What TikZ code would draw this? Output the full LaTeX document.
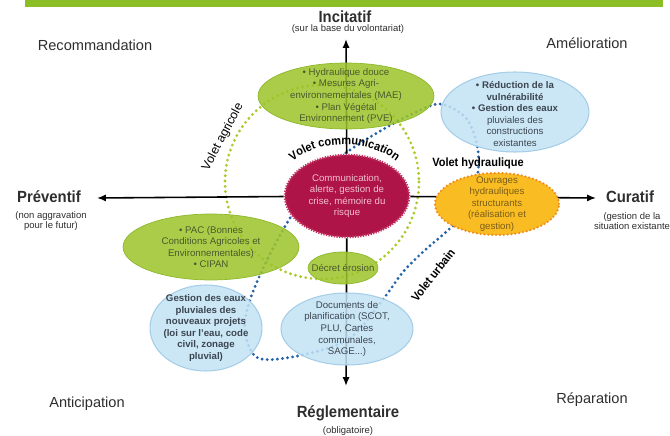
\documentclass[tikz,border=0pt]{standalone}
\usepackage{fontspec}
\setmainfont{Liberation Sans}
\newfontfamily\headfont[FakeStretch=0.92]{Liberation Sans}
\usetikzlibrary{shapes.geometric, arrows.meta, backgrounds, decorations.text}

\definecolor{bannergreen}{HTML}{8CBF26}
\definecolor{leafgreen}{HTML}{9DC42B}
\definecolor{leafedge}{HTML}{8DB82A}
\definecolor{leaftext}{HTML}{4A5A2C}
\definecolor{skyfill}{HTML}{C3E3F5}
\definecolor{skyedge}{HTML}{A5CDE8}
\definecolor{skytext}{HTML}{3C4650}
\definecolor{amberfill}{HTML}{F9BC22}
\definecolor{amberedge}{HTML}{F08C1A}
\definecolor{ambertext}{HTML}{7A5E1A}
\definecolor{wine}{HTML}{AE1448}
\definecolor{wineedge}{HTML}{C2305C}
\definecolor{pinktext}{HTML}{F4BFD0}
\definecolor{dotgreen}{HTML}{AACB2C}
\definecolor{dotblue}{HTML}{2563A8}
\definecolor{labelgray}{HTML}{2E2E2E}

\newcommand\voletfont{\headfont\bfseries\fontsize{6.8}{7.4}\selectfont}

\begin{document}
\begin{tikzpicture}[x=0.02cm, y=-0.02cm,
  blob/.style={ellipse, inner sep=0pt},
  leaf/.style={blob, fill=leafgreen, fill opacity=0.86, draw=leafedge, line width=0.4pt},
  sky/.style={blob, fill=skyfill, fill opacity=0.86, draw=skyedge, line width=0.6pt},
  amber/.style={blob, fill=amberfill, draw=amberedge, line width=1.4pt, line cap=round, dash pattern=on 0pt off 2.2pt},
  crimson/.style={blob, fill=wine, draw=wineedge, line width=1.5pt, dash pattern=on 0.7pt off 0.8pt},
  txt/.style={align=center, font=\fontsize{5.5}{6.6}\selectfont, inner sep=0pt},
  headl/.style={font={\headfont\bfseries\fontsize{9.2}{10}\selectfont}, text=labelgray, inner sep=0pt},
  subl/.style={font=\fontsize{5.4}{5.8}\selectfont, text=labelgray, inner sep=0pt, align=center},
  sidel/.style={font=\fontsize{8.3}{10}\selectfont, text=labelgray, inner sep=0pt},
  voletl/.style={font=\voletfont, text=black, inner sep=0pt},
  axis/.style={line width=0.9pt, -{Latex[length=5pt,width=4pt]}},
  greendots/.style={dotgreen, line width=1.8pt, line cap=round, dash pattern=on 0pt off 3pt},
  bluedots/.style={dotblue, line width=1.8pt, line cap=round, dash pattern=on 0pt off 2.9pt}]

\useasboundingbox (0,0) rectangle (670,436);

% title band
\fill[bannergreen] (25,0) rectangle (663,7);

% axis ends
\coordinate (axN) at (346,39);
\coordinate (axS) at (346,386);
\coordinate (axW) at (97,198);
\coordinate (axE) at (596,198);

% measures
\node[leaf, minimum width=3.52cm, minimum height=1.32cm] (agri) at (346,96) {};
\node[txt, text=leaftext] (agriT) at (agri) {• Hydraulique douce\\• Mesures Agri-\\environnementales (MAE)\\• Plan Végétal\\Environnement (PVE)};

\node[sky, minimum width=2.96cm, minimum height=1.6cm] (vuln) at (515,112) {};
\node[txt, text=skytext] (vulnT) at (515,114) {\textbf{• Réduction de la}\\\textbf{vulnérabilité}\\\textbf{• Gestion des eaux}\\pluviales des\\constructions\\existantes};

\node[amber, minimum width=2.48cm, minimum height=1.24cm] (ouvr) at (497,204) {};
\node[txt, text=ambertext] (ouvrT) at (ouvr) {Ouvrages\\hydrauliques\\structurants\\(réalisation et\\gestion)};

\node[crimson, minimum width=2.48cm, minimum height=1.64cm] (comm) at (347,196) {};
\node[txt, text=pinktext] (commT) at (comm) {Communication,\\alerte, gestion de\\crise, mémoire du\\risque};

\node[leaf, minimum width=3.52cm, minimum height=1.32cm] (pac) at (211,247) {};
\node[txt, text=leaftext] (pacT) at (pac) {• PAC (Bonnes\\Conditions Agricoles et\\Environnementales)\\• CIPAN};

\node[leaf, minimum width=1.4cm, minimum height=0.64cm] (eros) at (343,268) {};
\node[txt, text=leaftext] (erosT) at (eros) {Décret érosion};

\node[sky, minimum width=2.24cm, minimum height=1.72cm] (pluv) at (206,328) {};
\node[txt, text=skytext, font=\bfseries\fontsize{5.5}{6.6}\selectfont] (pluvT) at (pluv) {Gestion des eaux\\pluviales des\\nouveaux projets\\(loi sur l'eau, code\\civil, zonage\\pluvial)};

\node[sky, minimum width=2.64cm, minimum height=1.44cm] (plan) at (347,329) {};
\node[txt, text=skytext] (planT) at (plan) {Documents de\\planification (SCOT,\\PLU, Cartes\\communales,\\SAGE...)};

% loops and axes behind the measures
\begin{scope}[on background layer]
  \draw[greendots] (322,182) circle[radius=97];
  \draw[bluedots] plot[smooth cycle, tension=0.55] coordinates {
    (250,300) (268,258) (290,218) (318,176) (350,150) (382,130) (412,114)
    (440,104) (466,118) (477,145) (478,172) (468,210) (446,232) (424,251)
    (403,272) (384,298) (350,338) (302,355) (258,358) (245,330)};
  \draw[axis] (comm) -- (axN);
  \draw[axis] (comm) -- (axS);
  \draw[axis] (comm) -- (axW);
  \draw[axis] (comm) -- (axE);
\end{scope}

% axis labels
\node[headl] (incit) at (345,17) {Incitatif};
\node[subl] (incitS) at (348,29) {(sur la base du volontariat)};
\node[headl] (prev) at (49,197) {Préventif};
\node[subl] (prevS) at (51,221) {(non aggravation\\pour le futur)};
\node[headl] (cura) at (630,197) {Curatif};
\node[subl] (curaS) at (632,221) {(gestion de la\\situation existante};
\node[headl] (regl) at (348,413) {Réglementaire};
\node[subl] (reglS) at (348,431) {(obligatoire)};

% quadrant labels
\node[sidel] (recom) at (95,45) {Recommandation};
\node[sidel] (amel) at (587,43) {Amélioration};
\node[sidel] (antic) at (87,404) {Anticipation};
\node[sidel] (repar) at (592,400) {Réparation};

% loop labels
\node[voletl, font=\fontsize{7}{7.5}\selectfont, rotate=62] (vagri) at (223,137) {Volet agricole};
\node[voletl] (vhyd) at (478,163) {Volet hydraulique};
\node[voletl, rotate=52] (vurb) at (433,275) {Volet urbain};
\path[decorate, decoration={text along path, text align=center,
      text={|\voletfont|Volet communication}}]
  (293,161) .. controls (320,139) and (368,139) .. (396,161);
\end{tikzpicture}
\end{document}
